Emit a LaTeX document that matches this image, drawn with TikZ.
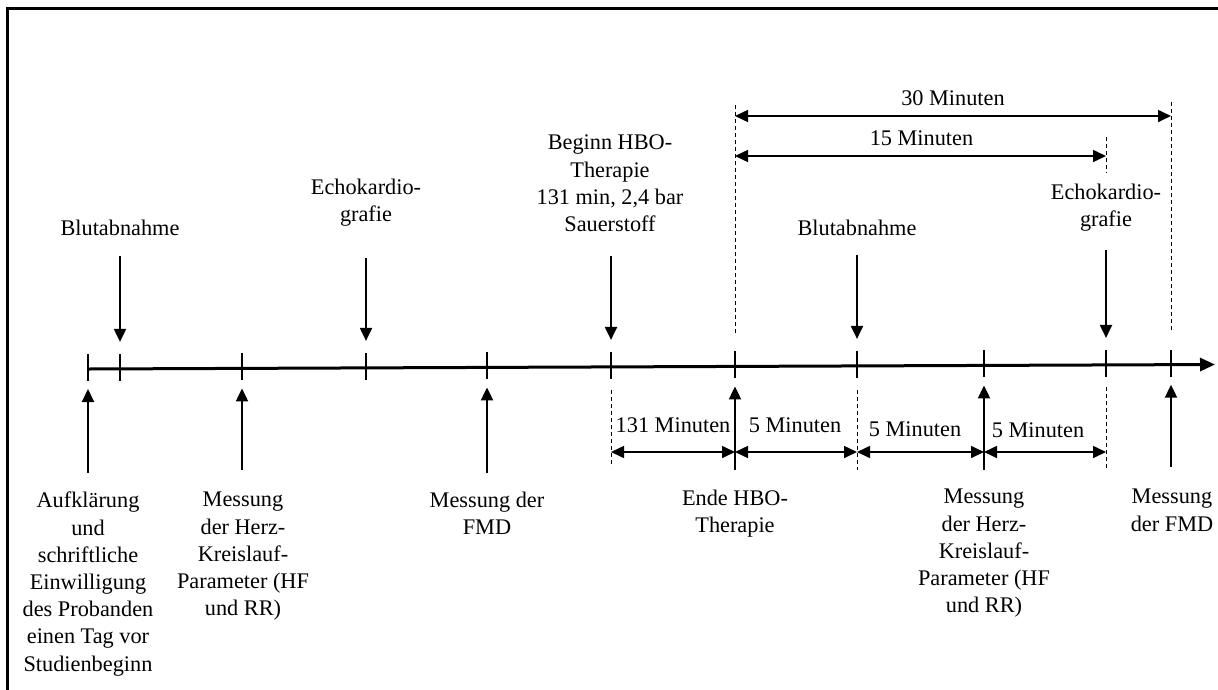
\documentclass[tikz,border=0pt]{standalone}
\usepackage{fontspec}
\setmainfont{Liberation Serif}
\usetikzlibrary{arrows.meta,calc}
\begin{document}
\begin{tikzpicture}[x=1pt,y=-1pt,
  lbl/.style={font=\fontsize{22.3}{27.2}\selectfont, align=center, inner sep=0pt},
  arr/.style={line width=2pt, -{Triangle[length=13pt,width=12pt]}},
  dbl/.style={line width=1.6pt, {Triangle[length=13pt,width=12pt]}-{Triangle[length=13pt,width=12pt]}},
  dsh/.style={line width=1pt, dash pattern=on 4pt off 3pt},
  tickmark/.style={line width=2.4pt}]
\useasboundingbox (0,0) rectangle (1218,689);
% frame (cropped at right and bottom)
\draw[line width=3pt] (1240,8) -- (7,8) -- (7,700);
% timeline points
\foreach \n/\x in {1/88,2/120,3/242,4/366,5/487,6/611,7/735,8/857,9/984,10/1106,11/1171}
  \coordinate (t\n) at (\x,{369-(\x-88)*0.004});
\coordinate (tend) at (1215,364.5);
\draw[line width=3pt,-{Triangle[length=15pt,width=13pt]}] (t1) -- (tend);
\foreach \n in {1,...,11}
  \draw[tickmark] ($(t\n)+(0,-15)$) -- ($(t\n)+(0,12)$);
% upper labels
\node[lbl,anchor=north] (blut1) at (120,220) {Blutabnahme};
\node[lbl,anchor=north] (echo1) at (366,179) {Echokardio-\\grafie};
\node[lbl,anchor=north] (hbo) at (610,135) {Beginn HBO-\\Therapie\\131 min, 2,4 bar\\Sauerstoff};
\node[lbl,anchor=north] (blut2) at (857,220) {Blutabnahme};
\node[lbl,anchor=north] (echo2) at (1106,184) {Echokardio-\\grafie};
% down arrows
\foreach \n/\ya in {2/255,4/258,6/257,8/257,10/253}
  \draw[arr] ($(t\n)+(0,\ya-368)$) -- ($(t\n)+(0,-27)$);
% lower labels
\node[lbl,anchor=north] (auf) at (88,492) {Aufklärung\\und\\schriftliche\\Einwilligung\\des Probanden\\einen Tag vor\\Studienbeginn};
\node[lbl,anchor=north] (mess1) at (243,492) {Messung\\der Herz-\\Kreislauf-\\Parameter (HF\\und RR)};
\node[lbl,anchor=north] (fmd1) at (487,492) {Messung der\\FMD};
\node[lbl,anchor=north] (ende) at (735,490) {Ende HBO-\\Therapie};
\node[lbl,anchor=north] (mess2) at (984,489) {Messung\\der Herz-\\Kreislauf-\\Parameter (HF\\und RR)};
\node[lbl,anchor=north] (fmd2) at (1172,489) {Messung\\der FMD};
% up arrows
\coordinate (u1) at (88,473);
\coordinate (u3) at (242,470);
\coordinate (u5) at (487,473);
\coordinate (u7) at (735,470);
\coordinate (u9) at (984,470);
\coordinate (u11) at (1171,467);
\foreach \n in {1,3,5,7,9,11}
  \draw[arr] (u\n) -- ($(t\n)+(0,20)$);
% dashed guide lines
\draw[dsh] (735,105) -- (735,334);
\draw[dsh] (1171,102) -- (1171,330);
\draw[dsh] (1106,137) -- (1106,173);
\draw[dsh] (611,390) -- (611,467);
\draw[dsh] (857,390) -- (857,470);
\draw[dsh] (1106,387) -- (1106,470);
% top span arrows
\coordinate (s30a) at (735,116);
\coordinate (s30b) at (1171,116);
\coordinate (s15a) at (735,156);
\coordinate (s15b) at (1106,156);
\draw[dbl] (s30a) -- node[lbl,above=9pt] (m30) {30 Minuten} (s30b);
\draw[dbl] (s15a) -- node[lbl,above=9pt,xshift=1pt] (m15) {15 Minuten} (s15b);
% bottom span arrows
\coordinate (b1) at (611,452);
\coordinate (b2) at (735,452);
\coordinate (b3) at (857,452);
\coordinate (b4) at (984,452);
\coordinate (b5) at (1106,452);
\draw[dbl] (b1) -- (b2);
\draw[dbl] (b2) -- (b3);
\draw[dbl] (b3) -- (b4);
\draw[dbl] (b4) -- (b5);
\node[lbl,anchor=base] (l131) at (673,432) {131 Minuten};
\node[lbl,anchor=base] (l5a) at (795,432) {5 Minuten};
\node[lbl,anchor=base] (l5b) at (915,436) {5 Minuten};
\node[lbl,anchor=base] (l5c) at (1038,437) {5 Minuten};
\end{tikzpicture}
\end{document}
